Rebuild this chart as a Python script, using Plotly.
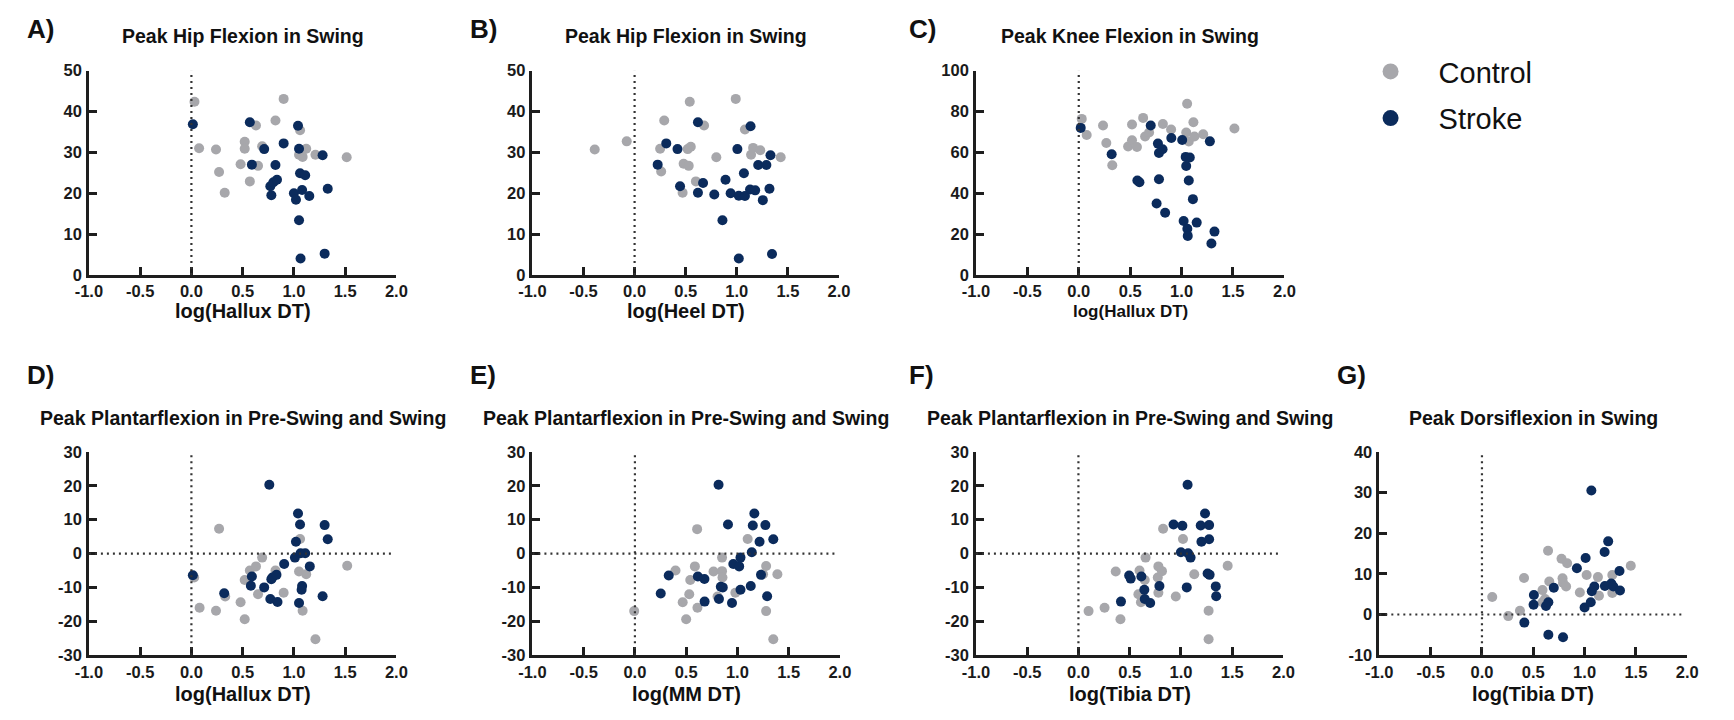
import plotly.graph_objects as go

# ---------------- data ----------------
# A) Peak hip flexion in swing vs log(Hallux DT)
a_ctrl_x = [0.03, 0.075, 0.24, 0.27, 0.325, 0.48, 0.52, 0.52, 0.57, 0.63, 0.65, 0.69,
            0.82, 0.90, 1.06, 1.05, 1.085, 1.12, 1.21, 1.515]
a_ctrl_y = [42.4, 31.0, 30.7, 25.2, 20.1, 27.1, 32.6, 30.9, 22.9, 36.6, 26.7, 31.5,
            37.8, 43.1, 35.4, 29.4, 28.9, 30.9, 29.4, 28.8]
a_strk_x = [0.014, 0.57, 0.59, 0.71, 0.90, 0.82, 0.77, 0.80, 0.835, 0.78, 1.04, 1.05,
            1.06, 1.11, 1.00, 1.02, 1.08, 1.15, 1.05, 1.065, 1.30, 1.28, 1.33]
a_strk_y = [36.9, 37.4, 27.0, 30.8, 32.2, 26.9, 21.7, 22.7, 23.3, 19.5, 36.5, 30.9,
            24.9, 24.4, 20.0, 18.4, 20.8, 19.3, 13.4, 4.0, 5.2, 29.3, 21.1]

# B) Peak hip flexion in swing vs log(Heel DT)
b_ctrl_x = [-0.39, -0.077, 0.29, 0.25, 0.26, 0.54, 0.52, 0.55, 0.48, 0.53, 0.47, 0.60,
            0.68, 0.80, 0.99, 1.08, 1.14, 1.16, 1.23, 1.43]
b_ctrl_y = [30.7, 32.7, 37.8, 30.9, 25.3, 42.4, 30.8, 31.4, 27.2, 26.7, 20.1, 22.9,
            36.6, 28.8, 43.1, 35.6, 29.4, 31.1, 30.5, 28.8]
b_strk_x = [0.226, 0.31, 0.42, 0.445, 0.62, 0.62, 0.67, 0.78, 0.89, 0.86, 0.94, 1.006,
            1.02, 1.02, 1.08, 1.07, 1.135, 1.13, 1.18, 1.21, 1.29, 1.255, 1.32, 1.33, 1.345]
b_strk_y = [27.0, 32.2, 30.8, 21.7, 37.4, 20.1, 22.5, 19.7, 23.3, 13.4, 20.0, 30.8,
            19.4, 4.0, 19.3, 24.9, 36.4, 20.9, 20.7, 26.9, 26.9, 18.3, 21.1, 29.3, 5.1]

# C) Peak knee flexion in swing vs log(Hallux DT)
c_ctrl_x = [0.029, 0.077, 0.236, 0.268, 0.326, 0.48, 0.518, 0.518, 0.566, 0.626, 0.645,
            0.684, 0.818, 0.898, 1.054, 1.045, 1.07, 1.115, 1.125, 1.21, 1.514]
c_ctrl_y = [76.4, 68.5, 73.2, 64.6, 53.7, 62.9, 73.7, 65.9, 62.6, 76.9, 67.8,
            69.7, 73.9, 71.2, 83.8, 69.7, 65.3, 74.8, 67.8, 68.9, 71.7]
c_strk_x = [0.019, 0.32, 0.57, 0.59, 0.70, 0.77, 0.78, 0.815, 0.78, 0.757, 0.84, 0.90,
            1.006, 1.04, 1.08, 1.045, 1.07, 1.11, 1.02, 1.056, 1.06, 1.147, 1.275, 1.32, 1.29]
c_strk_y = [72.0, 59.1, 46.2, 45.4, 73.2, 64.3, 59.7, 61.5, 46.8, 35.0, 30.4, 67.0,
            66.1, 57.8, 57.5, 53.3, 46.2, 37.1, 26.4, 22.6, 19.1, 25.6, 65.4, 21.2, 15.4]

# D) Peak plantarflexion in pre-swing and swing vs log(Hallux DT)
d_ctrl_x = [0.027, 0.08, 0.24, 0.27, 0.33, 0.48, 0.52, 0.52, 0.57, 0.63, 0.65, 0.69,
            0.82, 0.90, 1.06, 1.05, 1.085, 1.12, 1.21, 1.52]
d_ctrl_y = [-7.1, -16.0, -16.9, 7.3, -12.7, -14.4, -19.4, -7.8, -5.0, -3.8, -12.0, -1.2,
            -5.0, -11.6, 4.3, -5.3, -16.9, -6.1, -25.3, -3.6]
d_strk_x = [0.014, 0.32, 0.58, 0.59, 0.71, 0.76, 0.78, 0.79, 0.83, 0.77, 0.84, 0.905,
            1.01, 1.02, 1.04, 1.06, 1.065, 1.11, 1.155, 1.08, 1.075, 1.05, 1.28, 1.30, 1.33]
d_strk_y = [-6.4, -11.7, -9.5, -6.8, -10.0, 20.3, -7.6, -7.1, -6.3, -13.4, -14.3, -3.1,
            -1.2, 3.5, 11.8, 8.6, 0.1, 0.1, -3.8, -9.6, -10.7, -14.6, -12.6, 8.4, 4.2]

# E) Peak plantarflexion in pre-swing and swing vs log(MM DT)
e_ctrl_x = [-0.007, 0.396, 0.466, 0.50, 0.53, 0.54, 0.585, 0.607, 0.61, 0.767, 0.806,
            0.85, 0.85, 0.854, 0.98, 1.10, 1.25, 1.28, 1.28, 1.39, 1.35]
e_ctrl_y = [-17.0, -5.0, -14.4, -19.4, -12.0, -7.8, -3.8, 7.2, -16.0, -5.3, -12.7,
            -1.2, -5.2, -7.1, -11.6, 4.3, -6.1, -3.7, -17.0, -6.1, -25.3]
e_strk_x = [0.252, 0.33, 0.614, 0.678, 0.68, 0.816, 0.82, 0.838, 0.857, 0.908, 0.947,
            0.96, 1.017, 1.03, 1.03, 1.13, 1.14, 1.15, 1.165, 1.216, 1.23, 1.273, 1.29, 1.35]
e_strk_y = [-11.8, -6.5, -6.8, -7.5, -14.2, 20.3, -13.4, -9.8, -10.0, 8.6, -14.6,
            -3.1, -3.8, -1.2, -10.7, -9.6, 0.4, 8.3, 11.8, 3.5, -6.3, 8.4, -12.6, 4.2]

# F) Peak plantarflexion in pre-swing and swing vs log(Tibia DT)
f_ctrl_x = [0.099, 0.255, 0.364, 0.41, 0.585, 0.596, 0.61, 0.647, 0.655, 0.774, 0.78,
            0.78, 0.815, 0.826, 0.95, 1.02, 1.13, 1.27, 1.27, 1.456]
f_ctrl_y = [-17.0, -16.0, -5.3, -19.4, -12.0, -5.0, -14.4, -7.8, -1.2, -7.1, -3.8,
            -11.6, -5.2, 7.3, -12.7, 4.3, -6.1, -16.9, -25.3, -3.6]
f_strk_x = [0.415, 0.495, 0.51, 0.614, 0.643, 0.647, 0.70, 0.79, 0.928, 1.014, 1.0,
            1.065, 1.057, 1.07, 1.094, 1.193, 1.235, 1.275, 1.2, 1.275, 1.26, 1.28, 1.34, 1.344]
f_strk_y = [-14.2, -6.5, -7.4, -6.8, -10.7, -13.4, -14.6, -9.6, 8.6, 8.2, 0.4,
            20.3, -10.0, 0.1, -1.2, 8.3, 11.8, 8.4, 3.5, 4.2, -5.9, -6.3, -9.7, -12.6]

# G) Peak dorsiflexion in swing vs log(Tibia DT)
g_ctrl_x = [0.10, 0.256, 0.37, 0.41, 0.59, 0.59, 0.615, 0.644, 0.656, 0.775, 0.785,
            0.79, 0.82, 0.83, 0.954, 1.02, 1.13, 1.14, 1.27, 1.27, 1.45]
g_ctrl_y = [4.3, -0.4, 0.9, 9.0, 6.0, 3.0, 3.8, 15.7, 8.1, 13.7, 8.9,
            7.8, 6.9, 12.6, 5.4, 9.7, 9.2, 4.6, 9.7, 5.3, 12.0]
g_strk_x = [0.413, 0.506, 0.503, 0.624, 0.647, 0.647, 0.70, 0.79, 0.925, 1.0, 1.01,
            1.06, 1.066, 1.07, 1.095, 1.198, 1.195, 1.23, 1.26, 1.28, 1.34, 1.345]
g_strk_y = [-2.0, 4.8, 2.4, 2.1, 3.0, -5.0, 6.6, -5.6, 11.4, 1.7, 13.9,
            3.0, 30.5, 5.7, 6.9, 7.0, 15.4, 18.0, 7.6, 6.9, 10.7, 5.9]

# tick values / labels (plain hyphen-minus, as printed)
x_tick_vals = [-1.0, -0.5, 0.0, 0.5, 1.0, 1.5, 2.0]
x_tick_text = ["-1.0", "-0.5", "0.0", "0.5", "1.0", "1.5", "2.0"]
y_ticks_hip = [0, 10, 20, 30, 40, 50]
y_ticks_knee = [0, 20, 40, 60, 80, 100]
y_ticks_plantar = [-30, -20, -10, 0, 10, 20, 30]
y_ticks_dorsi = [-10, 0, 10, 20, 30, 40]

# ---------------- styling ----------------
W, H = 1734, 720
FONT = "Liberation Sans, Arial, Helvetica, sans-serif"
CONTROL_COLOR = "#a7a7ab"
STROKE_COLOR = "#0b2b5c"
AXIS_COLOR = "#1e1e1e"
REF_COLOR = "#333333"
DOT = 10

# letter, title, x title, data, y ticks, x pixel span, y pixel span, x-title size, zero line
panels = [
    ("A)", "Peak Hip Flexion in Swing", "log(Hallux DT)",
     (a_ctrl_x, a_ctrl_y, a_strk_x, a_strk_y), y_ticks_hip, (76, 388), (63.3, 272.7), 20, False),
    ("B)", "Peak Hip Flexion in Swing", "log(Heel DT)",
     (b_ctrl_x, b_ctrl_y, b_strk_x, b_strk_y), y_ticks_hip, (526, 837), (63.3, 272.7), 20, False),
    ("C)", "Peak Knee Flexion in Swing", "log(Hallux DT)",
     (c_ctrl_x, c_ctrl_y, c_strk_x, c_strk_y), y_ticks_knee, (976, 1289), (63.3, 272.7), 17, False),
    ("D)", "Peak Plantarflexion in Pre-Swing and Swing", "log(Hallux DT)",
     (d_ctrl_x, d_ctrl_y, d_strk_x, d_strk_y), y_ticks_plantar, (76, 388), (454.3, 662.7), 20, True),
    ("E)", "Peak Plantarflexion in Pre-Swing and Swing", "log(MM DT)",
     (e_ctrl_x, e_ctrl_y, e_strk_x, e_strk_y), y_ticks_plantar, (526, 838), (454.3, 662.7), 20, True),
    ("F)", "Peak Plantarflexion in Pre-Swing and Swing", "log(Tibia DT)",
     (f_ctrl_x, f_ctrl_y, f_strk_x, f_strk_y), y_ticks_plantar, (976, 1288), (454.3, 662.7), 20, True),
    ("G)", "Peak Dorsiflexion in Swing", "log(Tibia DT)",
     (g_ctrl_x, g_ctrl_y, g_strk_x, g_strk_y), y_ticks_dorsi, (1385.3, 1697.7), (454.3, 662.7), 20, True),
]

letter_pos = {"A)": (27, 20), "B)": (476, 20), "C)": (922, 20),
              "D)": (27, 375.5), "E)": (476, 375.5), "F)": (921, 375.5), "G)": (1357, 375.5)}


def px(x):
    return x / W


def py(y):
    return 1 - y / H


fig = go.Figure()
annotations = []
shapes = []
layout_axes = {}

for i, (letter, title, xtitle, data, yticks, xspan, yspan, xt_size, zero_h) in enumerate(panels):
    n = "" if i == 0 else str(i + 1)
    xa, ya = "x" + n, "y" + n
    cx, cy, sx, sy = data
    yrange = [yticks[0], yticks[-1]]

    fig.add_trace(go.Scatter(x=cx, y=cy, mode="markers", xaxis=xa, yaxis=ya, showlegend=False,
                             marker=dict(color=CONTROL_COLOR, size=DOT, line=dict(width=0))))
    fig.add_trace(go.Scatter(x=sx, y=sy, mode="markers", xaxis=xa, yaxis=ya, showlegend=False,
                             marker=dict(color=STROKE_COLOR, size=DOT, line=dict(width=0))))

    axis_common = dict(showline=True, linecolor=AXIS_COLOR, linewidth=2.5, ticks="inside",
                       ticklen=8, tickwidth=2.5, tickcolor=AXIS_COLOR, showgrid=False,
                       zeroline=False, tickfont=dict(family=FONT, size=16.5, color="#1a1a1a", weight="bold"))
    layout_axes["xaxis" + n] = dict(axis_common, domain=[px(xspan[0]), px(xspan[1])], range=[-1, 2],
                                    tickmode="array", tickvals=x_tick_vals, ticktext=x_tick_text, anchor=ya)
    layout_axes["yaxis" + n] = dict(axis_common, domain=[py(yspan[1]), py(yspan[0])], range=yrange,
                                    tickmode="array", tickvals=yticks,
                                    ticktext=[str(v) for v in yticks], anchor=xa, ticklabelstandoff=1)

    # dotted reference lines at x = 0 (and y = 0 where the range crosses zero)
    shapes.append(dict(type="line", xref=xa, yref=ya, x0=0, x1=0, y0=yrange[0], y1=yrange[1],
                       line=dict(color=REF_COLOR, width=2.2, dash="2px,4px")))
    if zero_h:
        shapes.append(dict(type="line", xref=xa, yref=ya, x0=-1, x1=1.95, y0=0, y1=0,
                           line=dict(color=REF_COLOR, width=2.2, dash="2px,4px")))

    xc = (xspan[0] + xspan[1]) / 2
    top_row = yspan[0] < 200
    title_y = 28 if top_row else 419
    xt_y = 310 if top_row else 703
    annotations.append(dict(text=f"<b>{title}</b>", x=px(xc), y=py(title_y), xref="paper", yref="paper",
                            xanchor="center", yanchor="middle", showarrow=False,
                            font=dict(family=FONT, size=19.5, color="#111")))
    annotations.append(dict(text=f"<b>{xtitle}</b>", x=px(xc), y=py(xt_y), xref="paper", yref="paper",
                            xanchor="center", yanchor="middle", showarrow=False,
                            font=dict(family=FONT, size=xt_size, color="#111")))
    lx, ly = letter_pos[letter]
    annotations.append(dict(text=f"<b>{letter}</b>", x=px(lx), y=py(ly), xref="paper", yref="paper",
                            xanchor="center", yanchor="middle", showarrow=False,
                            font=dict(family=FONT, size=26, color="#111")))

# legend entries
fig.add_trace(go.Scatter(x=[None], y=[None], mode="markers", name="Control", legendgroup="c",
                         marker=dict(color=CONTROL_COLOR, size=17)))
fig.add_trace(go.Scatter(x=[None], y=[None], mode="markers", name="Stroke", legendgroup="s",
                         marker=dict(color=STROKE_COLOR, size=17)))

fig.update_layout(
    width=W, height=H, margin=dict(l=0, r=0, t=0, b=0),
    paper_bgcolor="white", plot_bgcolor="white",
    showlegend=True,
    legend=dict(x=px(1348), y=py(38), xanchor="left", yanchor="top", itemwidth=86,
                font=dict(family=FONT, size=29, color="#111"), bgcolor="rgba(0,0,0,0)",
                tracegroupgap=6, traceorder="grouped"),
    annotations=annotations, shapes=shapes,
    **layout_axes,
)

fig.write_html("out.html")
